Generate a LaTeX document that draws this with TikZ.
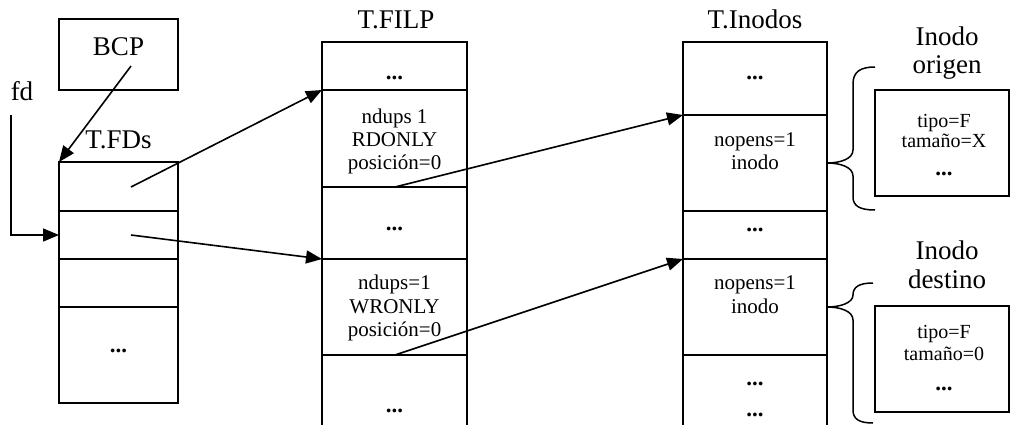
\documentclass[tikz,border=0pt]{standalone}
\usepackage{fontspec}
\setmainfont{Liberation Serif}
\usetikzlibrary{arrows.meta}
\begin{document}
\begin{tikzpicture}[x=1pt,y=-1pt,
  cellbase/.style={draw, line width=2pt, anchor=north west, inner sep=0pt, outer sep=0pt},
  cellfd/.style={cellbase, minimum width=119pt},
  cellfp/.style={cellbase, minimum width=145pt},
  cellin/.style={cellbase, minimum width=144pt},
  cellino/.style={cellbase, minimum width=134pt},
  title/.style={inner sep=0pt, anchor=base, font=\fontsize{27}{30}\selectfont},
  txt/.style={inner sep=0pt, anchor=base, font=\fontsize{21}{23}\selectfont},
  txts/.style={inner sep=0pt, anchor=base, font=\fontsize{20}{21}\selectfont},
  dots/.style={inner sep=0pt, anchor=base, font=\fontsize{23}{23}\selectfont\bfseries},
  arr/.style={line width=1.6pt, -{Triangle[length=16pt,width=13pt]}},
  bracestyle/.style={line width=1.5pt}
]
\useasboundingbox (0,0) rectangle (1010,424);

% BCP and fd
\node[cellfd, minimum height=71pt] (bcp) at (59,19) {};
\node[title] (bcpt) at (118.5,55) {BCP};
\node[title] (fdl) at (22,100) {fd};

% T.FDs
\node[title] (fdst) at (118.5,148) {T.FDs};
\node[cellfd, minimum height=49pt] (fd1) at (59,162) {};
\node[cellfd, minimum height=48pt] (fd2) at (59,211) {};
\node[cellfd, minimum height=48pt] (fd3) at (59,259) {};
\node[cellfd, minimum height=96pt] (fd4) at (59,307) {};
\node[dots] (fd4d) at (118.5,352) {...};

% T.FILP
\node[title] (fpt) at (396,28) {T.FILP};
\node[cellfp, minimum height=48pt] (fp1) at (322,42) {};
\node[cellfp, minimum height=97pt] (fp2) at (322,90) {};
\node[cellfp, minimum height=72pt] (fp3) at (322,187) {};
\node[cellfp, minimum height=96pt] (fp4) at (322,259) {};
\node[cellfp, minimum height=90pt] (fp5) at (322,355) {};
\node[dots] (fp1d) at (394.5,79) {...};
\node[txt] (fp2a) at (394.5,123) {ndups 1};
\node[txt] (fp2b) at (394.5,146) {RDONLY};
\node[txt] (fp2c) at (394.5,169) {posición=0};
\node[dots] (fp3d) at (394.5,230) {...};
\node[txt] (fp4a) at (394.5,289) {ndups=1};
\node[txt] (fp4b) at (394.5,313) {WRONLY};
\node[txt] (fp4c) at (394.5,336) {posición=0};
\node[dots] (fp5d) at (394.5,412) {...};

% T.Inodos
\node[title] (int) at (755,28) {T.Inodos};
\node[cellin, minimum height=73pt] (in1) at (683,42) {};
\node[cellin, minimum height=96pt] (in2) at (683,115) {};
\node[cellin, minimum height=48pt] (in3) at (683,211) {};
\node[cellin, minimum height=96pt] (in4) at (683,259) {};
\node[cellin, minimum height=90pt] (in5) at (683,355) {};
\node[dots] (in1d) at (755,79) {...};
\node[txt] (in2a) at (755,146) {nopens=1};
\node[txt] (in2b) at (755,169) {inodo};
\node[dots] (in3d) at (755,231) {...};
\node[txt] (in4a) at (755,289) {nopens=1};
\node[txt] (in4b) at (755,313) {inodo};
\node[dots] (in5d) at (755,385) {...};
\node[dots] (in5e) at (755,416) {...};

% Inodo origen
\node[title] (ort1) at (947,45) {Inodo};
\node[title] (ort2) at (947,73) {origen};
\node[cellino, minimum height=106pt] (ori) at (875,90) {};
\node[txts] (oria) at (944,127) {tipo=F};
\node[txts] (orib) at (944,147) {tamaño=X};
\node[dots] (orid) at (944,175) {...};

% Inodo destino
\node[title] (dst1) at (947,259) {Inodo};
\node[title] (dst2) at (947,288) {destino};
\node[cellino, minimum height=106pt] (dst) at (875,306) {};
\node[txts] (dsta) at (944,338) {tipo=F};
\node[txts] (dstb) at (944,360) {tamaño=0};
\node[dots] (dstd) at (944,390) {...};

% arrows
\coordinate (a1) at (131,66);
\coordinate (a2) at (11,115);
\coordinate (a3) at (131,187);
\coordinate (a4) at (131,235);
\coordinate (a5) at (395,187);
\coordinate (a6) at (395,355);
\draw[arr] (a1) -- (fd1.north west);
\draw[arr] (a2) |- (fd2.west);
\draw[arr] (a3) -- (fp2.north west);
\draw[arr] (a4) -- (fp4.north west);
\draw[arr] (a5) -- (in2.north west);
\draw[arr] (a6) -- (in4.north west);

% braces
\coordinate (b1t) at (875,67);
\coordinate (b1b) at (875,210);
\coordinate (b2t) at (873,283);
\coordinate (b2b) at (873,423);
\draw[bracestyle] (b1t) .. controls (860,67) and (853,72) .. (853,84) -- (853,150)
  .. controls (853,159) and (840,163) .. (in2.east)
  .. controls (840,163) and (853,167) .. (853,176) -- (853,197)
  .. controls (853,206) and (860,210) .. (b1b);
\draw[bracestyle] (b2t) .. controls (859,283) and (853,287) .. (853,295)
  .. controls (853,303) and (840,307) .. (in4.east)
  .. controls (840,307) and (853,311) .. (853,320) -- (853,410)
  .. controls (853,419) and (859,423) .. (b2b);
\end{tikzpicture}
\end{document}
